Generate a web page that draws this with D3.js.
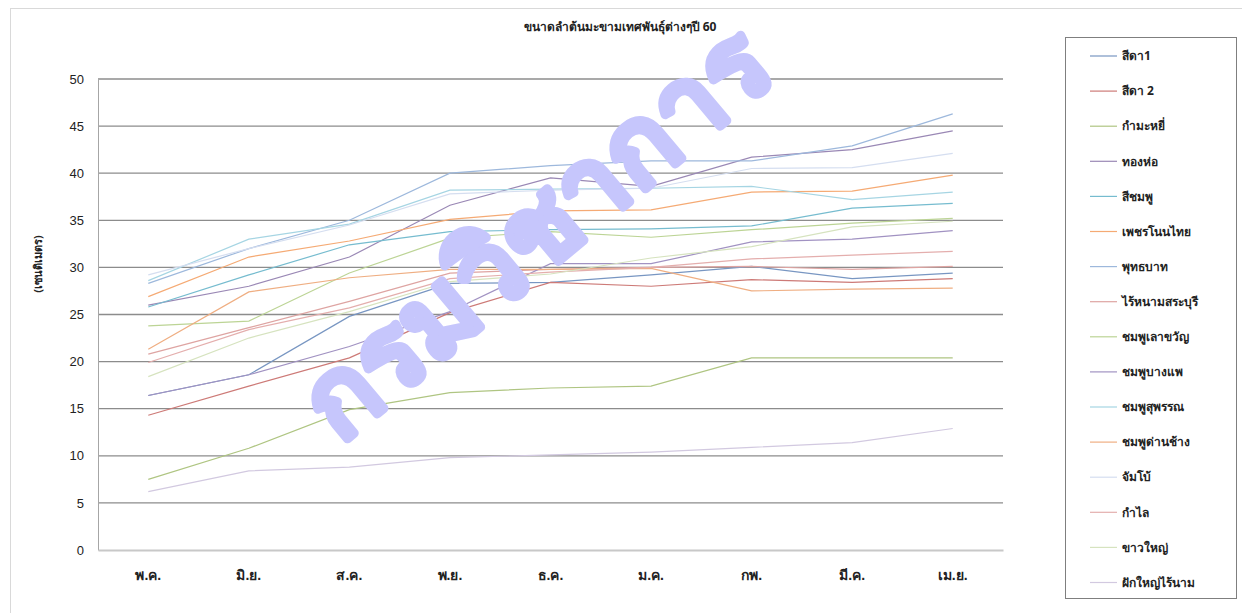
<!DOCTYPE html>
<html>
<head>
<meta charset="utf-8">
<script src="https://cdn.jsdelivr.net/npm/d3@7"></script>
<style>
  body { margin: 0; background: #fff; }
  svg { font-family: "Noto Sans", "Open Sans", sans-serif; }
</style>
</head>
<body>
<div id="chart"></div>
<script>
// months
var months = ["พ.ค.", "มิ.ย.", "ส.ค.", "พ.ย.", "ธ.ค.", "ม.ค.", "กพ.", "มี.ค.", "เม.ย."];
var yTicks = [0, 5, 10, 15, 20, 25, 30, 35, 40, 45, 50];

var names = ["สีดา1", "สีดา 2", "กำมะหยี่", "ทองห่อ", "สีชมพู", "เพชรโนนไทย", "พุทธบาท", "ไร้หนามสระบุรี",
  "ชมพูเลาขวัญ", "ชมพูบางแพ", "ชมพูสุพรรณ", "ชมพูด่านช้าง", "จัมโบ้", "กำไล", "ขาวใหญ่", "ฝักใหญ่ไร้นาม"];

var sida1      = [16.4, 18.6, 24.8, 28.3, 28.4, 29.2, 30.1, 28.8, 29.4];
var sida2      = [14.3, 17.4, 20.4, 25.2, 28.4, 28.0, 28.7, 28.4, 28.8];
var kammayee   = [7.5, 10.8, 14.9, 16.7, 17.2, 17.4, 20.4, 20.4, 20.4];
var tonghor    = [26.0, 28.0, 31.1, 36.6, 39.5, 38.6, 41.7, 42.5, 44.5];
var seechompoo = [25.8, 29.2, 32.4, 33.8, 34.0, 34.1, 34.4, 36.3, 36.8];
var petch      = [26.9, 31.1, 32.8, 35.1, 36.0, 36.1, 38.0, 38.1, 39.8];
var puttabat   = [28.3, 32.0, 35.0, 40.0, 40.8, 41.3, 41.3, 42.9, 46.3];
var rainam     = [20.8, 23.6, 26.4, 29.4, 29.8, 30.0, 30.1, 29.8, 30.1];
var laokwan    = [23.8, 24.3, 29.4, 33.1, 33.8, 33.2, 34.0, 34.7, 35.2];
var bangpae    = [16.4, 18.6, 21.6, 25.3, 30.4, 30.4, 32.7, 33.0, 33.9];
var suphan     = [28.6, 33.0, 34.6, 38.2, 38.3, 38.4, 38.6, 37.2, 38.0];
var danchang   = [21.3, 27.4, 28.9, 29.8, 29.8, 29.9, 27.5, 27.7, 27.8];
var jumbo      = [29.2, 32.0, 34.5, 37.8, 38.2, 38.4, 40.5, 40.6, 42.1];
var kamlai     = [19.9, 23.4, 25.7, 28.8, 29.5, 30.0, 30.9, 31.3, 31.7];
var kaoyai     = [18.4, 22.5, 25.3, 28.5, 29.3, 31.0, 32.2, 34.3, 34.9];
var fakyai     = [6.2, 8.4, 8.8, 9.8, 10.1, 10.4, 10.9, 11.4, 12.9];

var values = [sida1, sida2, kammayee, tonghor, seechompoo, petch, puttabat, rainam,
  laokwan, bangpae, suphan, danchang, jumbo, kamlai, kaoyai, fakyai];

var colors = ["#7896c2", "#cd7a77", "#afc582", "#9a88b5", "#76bccf", "#f5aa74", "#9db8dc", "#dea4a2",
  "#bcd495", "#a192c2", "#a6d5e3", "#efae82", "#d5def0", "#e4aead", "#d6e3bf", "#d2c9e0"];

var W = 1242, H = 613;
var margin = {top: 79, left: 98, right: 239, bottom: 63};

var svg = d3.select("#chart").append("svg")
  .attr("width", W).attr("height", H);

// chart frame
svg.append("rect")
  .attr("x", 10.5).attr("y", 8.5)
  .attr("width", W).attr("height", H)
  .attr("fill", "none").attr("stroke", "#d9d9d9");

var x = d3.scaleBand().domain(months).range([margin.left, W - margin.right]);
var y = d3.scaleLinear().domain([0, 50]).range([H - margin.bottom, margin.top]);

// title
svg.append("text")
  .attr("x", 620).attr("y", 31)
  .attr("text-anchor", "middle")
  .attr("font-size", 12).attr("font-weight", "bold").attr("fill", "#222")
  .text("ขนาดลำต้นมะขามเทศพันธุ์ต่างๆปี  60");

// grid lines
svg.append("g")
  .selectAll("line")
  .data(yTicks.filter(d => d > 0))
  .join("line")
  .attr("x1", margin.left).attr("x2", W - margin.right)
  .attr("y1", d => y(d)).attr("y2", d => y(d))
  .attr("stroke", "#8c8c8c").attr("stroke-width", 1.3);

// y axis
var yAxis = svg.append("g")
  .attr("transform", "translate(" + margin.left + ",0)")
  .call(d3.axisLeft(y).tickValues(yTicks).tickSize(0).tickPadding(14));
yAxis.select(".domain").attr("stroke", "#a6a6a6");
yAxis.selectAll("text").attr("font-size", 13).attr("fill", "#222");

// x axis
var xAxis = svg.append("g")
  .attr("transform", "translate(0," + y(0) + ")")
  .call(d3.axisBottom(x).tickSize(0).tickPadding(20));
xAxis.select(".domain").attr("stroke", "#c8c8c8").attr("stroke-width", 2);
xAxis.selectAll("text").attr("font-size", 14).attr("font-weight", "bold").attr("fill", "#222");

// y label
svg.append("text")
  .attr("transform", "translate(42,264) rotate(-90)")
  .attr("text-anchor", "middle")
  .attr("font-size", 11).attr("font-weight", "bold").attr("fill", "#222")
  .text("(เซนติเมตร)");

// lines
var line = d3.line()
  .x((d, i) => x(months[i]) + x.bandwidth() / 2)
  .y(d => y(d));

svg.append("g")
  .selectAll("path")
  .data(values)
  .join("path")
  .attr("fill", "none")
  .attr("stroke", (d, i) => colors[i])
  .attr("stroke-width", 1.2)
  .attr("d", line);

// legend
svg.append("rect")
  .attr("x", 1065.5).attr("y", 37.5)
  .attr("width", 171).attr("height", 561)
  .attr("fill", "none").attr("stroke", "#7f7f7f");

var lg = svg.append("g").selectAll("g")
  .data(names)
  .join("g")
  .attr("transform", (d, i) => "translate(1090," + (56 + i * 35.1) + ")");
lg.append("line")
  .attr("x1", 0).attr("x2", 27)
  .attr("stroke", (d, i) => colors[i]).attr("stroke-width", 1.2);
lg.append("text")
  .attr("x", 32).attr("dy", "0.35em")
  .attr("font-size", 12).attr("font-weight", "bold").attr("fill", "#222")
  .text(d => d);

// watermark
svg.append("text")
  .attr("transform", "translate(340,445) rotate(-40)")
  .attr("font-size", 108).attr("font-weight", "bold")
  .attr("fill", "#c6c6fc").attr("stroke", "#c6c6fc")
  .attr("stroke-width", 6).attr("stroke-linejoin", "round")
  .text("กรมวิชาการ");
</script>
</body>
</html>
